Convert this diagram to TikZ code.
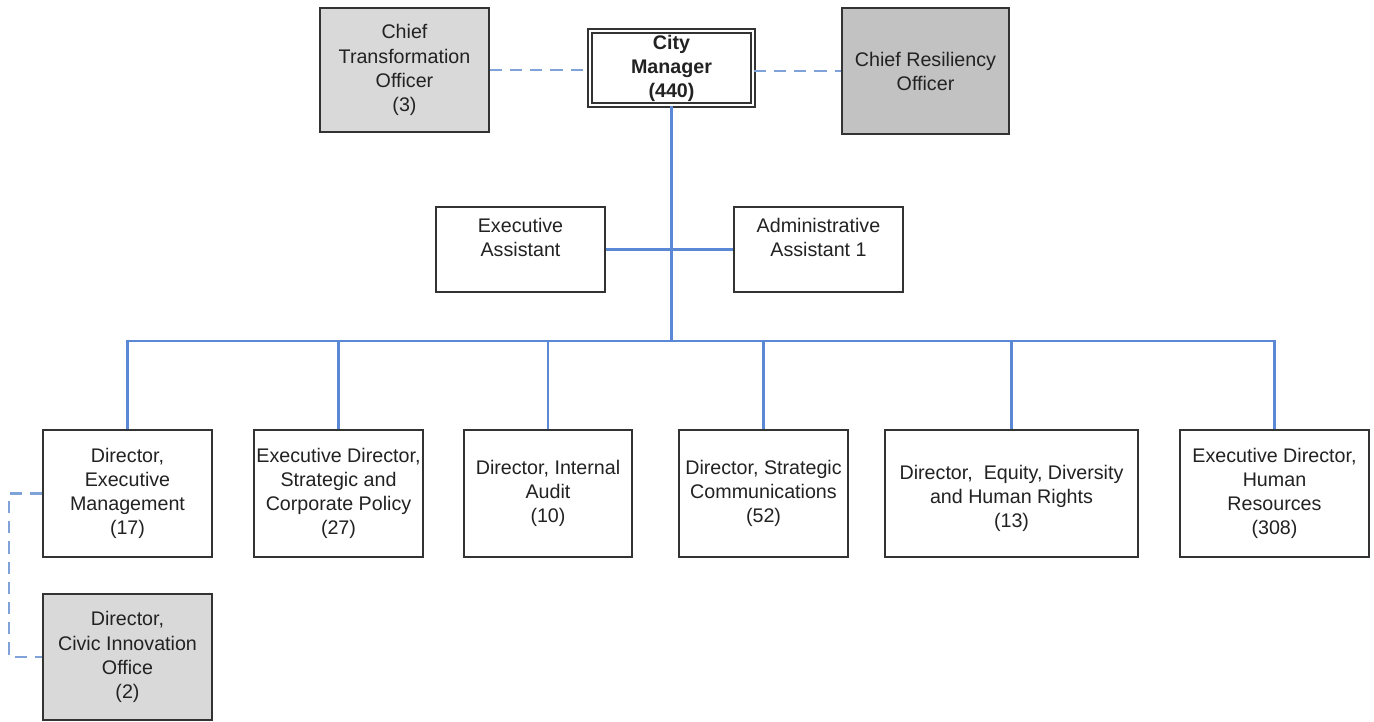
\documentclass[tikz,border=0pt]{standalone}
\usepackage{fontspec}
\setmainfont{Liberation Sans}
\definecolor{conn}{HTML}{5A88D4}
\definecolor{dconn}{HTML}{7FA3D8}
\definecolor{lgray}{HTML}{D9D9D9}
\definecolor{mgray}{HTML}{C2C2C2}
\definecolor{txt}{HTML}{222222}
\definecolor{bord}{HTML}{333333}
\begin{document}
\begin{tikzpicture}[x=0.02cm,y=-0.02cm,
  box/.style={draw=bord, line width=0.85pt, fill=white, align=center, text=txt, inner sep=0pt,
    font=\fontsize{11.2}{13.7}\selectfont},
  conline/.style={draw=conn, line width=1.15pt},
  dashline/.style={draw=dconn, line width=1.3pt, dash pattern=on 7pt off 4.5pt}]
\useasboundingbox (0,0) rectangle (1374,721);
% nodes
\node[box, fill=lgray, minimum width=3.38cm, minimum height=2.48cm] (cto) at (404.5,70) {Chief\\Transformation\\Officer\\(3)};
\node[box, double=white, double distance=1.6pt, minimum width=3.26cm, minimum height=1.48cm] (cm) at (671.5,68) {\bfseries City\\\bfseries Manager\\\bfseries (440)};
\node[box, fill=mgray, minimum width=3.34cm, minimum height=2.52cm] (cro) at (925.5,71) {Chief Resiliency\\Officer};
\node[box, minimum width=3.38cm, minimum height=1.70cm] (ea) at (520.5,249.5) {Executive\\Assistant\\\mbox{}};
\node[box, minimum width=3.38cm, minimum height=1.70cm] (aa) at (818.5,249.5) {Administrative\\Assistant 1\\\mbox{}};
\node[box, minimum width=3.38cm, minimum height=2.54cm] (d1) at (127.5,493.5) {Director,\\Executive\\Management\\(17)};
\node[box, minimum width=3.38cm, minimum height=2.54cm] (d2) at (338.5,493.5) {Executive Director,\\Strategic and\\Corporate Policy\\(27)};
\node[box, minimum width=3.36cm, minimum height=2.54cm] (d3) at (548,493.5) {Director, Internal\\Audit\\(10)};
\node[box, minimum width=3.38cm, minimum height=2.54cm] (d4) at (763.5,493.5) {Director, Strategic\\Communications\\(52)};
\node[box, minimum width=5.06cm, minimum height=2.54cm] (d5) at (1011.5,493.5) {\mbox{}\\Director,\ \ Equity, Diversity\\and Human Rights\\(13)};
\node[box, minimum width=3.78cm, minimum height=2.54cm] (d6) at (1274.5,493.5) {Executive Director,\\Human\\Resources\\(308)};
\node[box, fill=lgray, minimum width=3.38cm, minimum height=2.52cm] (ci) at (127.5,657) {Director,\\Civic Innovation\\Office\\(2)};
% connectors
\coordinate (bus) at (671.5,341);
\draw[dashline] (cto.east) -- (cto.east -| cm.west);
\draw[dashline] (cm.east |- cro.west) -- (cro.west);
\draw[conline] (cm.south) -- (bus);
\draw[conline] (ea.east) -- (aa.west);
\draw[conline] (d1.north) |- (bus) -| (d6.north);
\draw[conline] (d2.north) -- (d2.north |- bus);
\draw[conline] (d3.north) -- (d3.north |- bus);
\draw[conline] (d4.north) -- (d4.north |- bus);
\draw[conline] (d5.north) -- (d5.north |- bus);
\draw[dashline] (d1.west) -- ++(-33,0) |- (ci.west);
\end{tikzpicture}
\end{document}
